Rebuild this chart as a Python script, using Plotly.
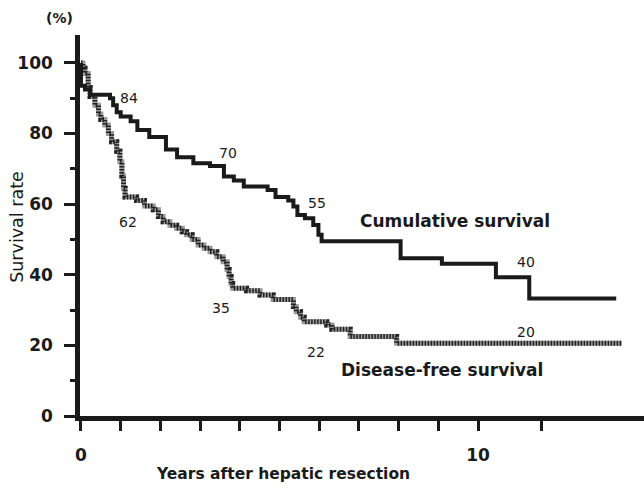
import plotly.graph_objects as go

# ---- data ----
cum_years = [0, 0.0, 0.1, 0.23, 0.73, 0.81, 0.9, 1.0, 1.25, 1.42, 1.72, 2.14, 2.42, 2.83,
             3.25, 3.6, 3.85, 4.1, 4.7, 4.9, 5.22, 5.35, 5.45, 5.64, 5.85, 5.98, 6.06,
             8.05, 9.09, 10.45, 11.29, 13.48]
cum_values = [100, 93.5, 92.5, 91, 90, 88, 86, 84.8, 83.5, 81, 79, 75.5, 73.3, 71.6,
              70.8, 67.8, 66.7, 65.0, 64.0, 62.0, 61.0, 59.3, 56.9, 56.0, 54.1, 51.3, 49.5,
              44.7, 43.1, 39.3, 33.3, 33.3]

dfs_years = [0, 0.05, 0.1, 0.18, 0.23, 0.35, 0.44, 0.5, 0.6, 0.69, 0.77, 0.9, 0.98, 1.03,
             1.07, 1.11, 1.40, 1.6, 1.82, 1.95, 2.07, 2.24, 2.41, 2.55, 2.66, 2.8, 2.95,
             3.1, 3.25, 3.42, 3.58, 3.68, 3.73, 3.78, 3.82, 4.17, 4.51, 4.84, 5.35, 5.42,
             5.53, 5.62, 6.19, 6.32, 6.78, 7.95, 13.62]
dfs_values = [100, 98.5, 97, 93, 90.5, 88, 85.5, 84, 82.4, 80, 77.7, 75, 72, 68,
              64.5, 62, 61, 59.5, 58.4, 56.5, 55, 54, 53.2, 52.2, 51.3, 50, 48.4,
              47.5, 46.5, 45.1, 43.7, 41.5, 39.5, 37.5, 36.2, 35.5, 34.3, 33.0, 31, 29.5,
              28, 26.7, 25.8, 24.6, 22.5, 20.6, 20.6]

cum_label_texts = ["84", "70", "55", "40"]
dfs_label_texts = ["62", "35", "22", "20"]
series_names = ["Cumulative survival", "Disease-free survival"]

x_tick_vals = [0, 1, 2, 3, 4, 5, 6, 7, 8, 9, 10, 11.6]
x_tick_text = ["0", "", "", "", "", "", "", "", "", "", "10", ""]
y_tick_vals = [0, 20, 40, 60, 80, 100]
y_minor_vals = [10, 30, 50, 70, 90]

# ---- positions / styles ----
cum_label_pos = [(1.20, 90.2), (3.70, 74.6), (5.94, 60.3), (11.21, 43.5)]
dfs_label_pos = [(1.18, 55.0), (3.53, 30.7), (5.92, 18.0), (11.21, 23.8)]
name_pos = [(9.41, 55.2), (9.08, 13.0)]

INK = "#1a1a1a"
FONT = "DejaVu Sans"

fig = go.Figure()

# Disease-free survival: hatched look (grey base + dark dashed overlay)
fig.add_trace(go.Scatter(x=dfs_years, y=dfs_values, mode="lines",
                         line=dict(shape="hv", color="#9a9a9a", width=5),
                         hoverinfo="skip", showlegend=False))
fig.add_trace(go.Scatter(x=dfs_years, y=dfs_values, mode="lines",
                         line=dict(shape="hv", color="#222222", width=5, dash="1.5px,1.5px"),
                         name=series_names[1], showlegend=False))
# Cumulative survival
fig.add_trace(go.Scatter(x=cum_years, y=cum_values, mode="lines",
                         line=dict(shape="hv", color=INK, width=4),
                         name=series_names[0], showlegend=False))

annos = []
for t, (x, y) in zip(cum_label_texts + dfs_label_texts, cum_label_pos + dfs_label_pos):
    annos.append(dict(x=x, y=y, text=t, showarrow=False, xref="x", yref="y",
                      xanchor="center", yanchor="middle",
                      font=dict(family=FONT, size=14, color=INK)))
for t, (x, y) in zip(series_names, name_pos):
    annos.append(dict(x=x, y=y, text=t, showarrow=False, xref="x", yref="y",
                      xanchor="center", yanchor="middle",
                      font=dict(family=FONT, size=17, color=INK, weight="bold")))

# axis titles and unit
annos.append(dict(x=-0.112, y=0.496, xref="paper", yref="paper", text="Survival rate",
                  textangle=-90, showarrow=False, xanchor="center", yanchor="middle",
                  font=dict(family=FONT, size=17.5, color=INK)))
annos.append(dict(x=0.360, y=-0.152, xref="paper", yref="paper",
                  text="Years after hepatic resection", showarrow=False,
                  xanchor="center", yanchor="middle",
                  font=dict(family=FONT, size=15.5, color=INK, weight="bold")))
annos.append(dict(x=-0.037, y=1.045, xref="paper", yref="paper", text="(%)",
                  showarrow=False, xanchor="center", yanchor="middle",
                  font=dict(family=FONT, size=14, color=INK, weight="bold")))

fig.update_layout(
    width=644, height=494, autosize=False,
    margin=dict(l=80, r=0, t=35, b=78),
    paper_bgcolor="white", plot_bgcolor="white",
    annotations=annos,
    xaxis=dict(range=[-0.025, 14.18], showgrid=False, zeroline=False,
               showline=True, linecolor=INK, linewidth=4.5,
               tickmode="array", tickvals=x_tick_vals, ticktext=x_tick_text,
               ticks="outside", ticklen=10, tickwidth=2.5, tickcolor=INK,
               ticklabelstandoff=10,
               tickfont=dict(family=FONT, size=17, color=INK, weight="bold")),
    yaxis=dict(range=[0, 107.9], showgrid=False, zeroline=False,
               showline=True, linecolor=INK, linewidth=4.5,
               tickmode="array", tickvals=y_tick_vals,
               ticks="outside", ticklen=11, tickwidth=2.5, tickcolor=INK,
               ticklabelstandoff=8,
               tickfont=dict(family=FONT, size=17, color=INK, weight="bold"),
               minor=dict(tickmode="array", tickvals=y_minor_vals,
                          ticks="outside", ticklen=5, tickwidth=2.5, tickcolor=INK)),
)

fig.write_html("out.html", config={"displayModeBar": False},
               post_script="document.body.style.margin='0';")
